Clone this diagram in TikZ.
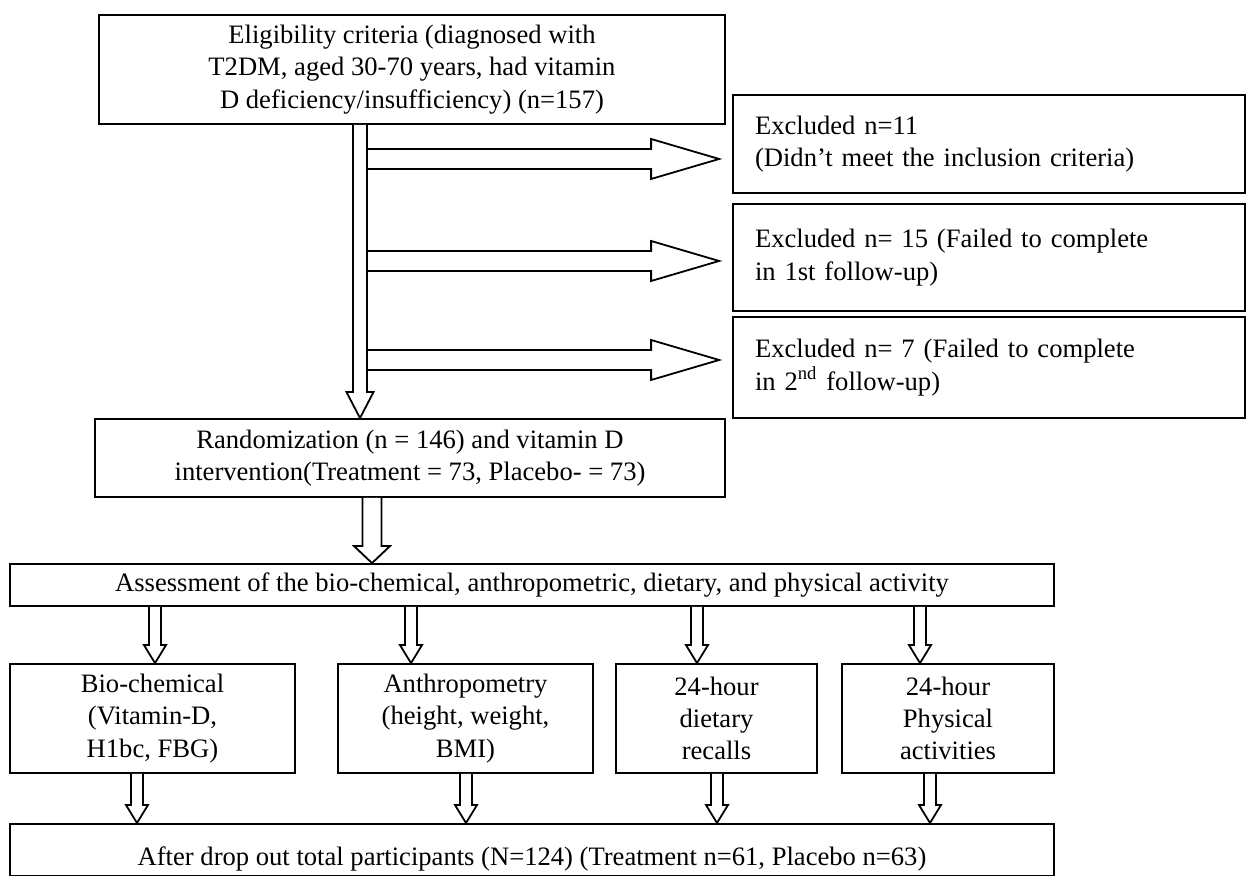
\documentclass[tikz,border=0pt]{standalone}
\usepackage{fontspec}
\setmainfont{Liberation Serif}
\usetikzlibrary{calc}

% hollow block arrows: start, tip, shaft half width, head half width, head length
\newcommand{\blockdown}[5]{%
  \draw[arrowline] ($(#1)+(-#3,0)$) -- ($(#2)+(-#3,#5)$) -- ($(#2)+(-#4,#5)$) -- (#2)
    -- ($(#2)+(#4,#5)$) -- ($(#2)+(#3,#5)$) -- ($(#1)+(#3,0)$);}
\newcommand{\blockright}[5]{%
  \draw[arrowline] ($(#1)+(0,#3)$) -- ($(#2)+(-#5,#3)$) -- ($(#2)+(-#5,#4)$) -- (#2)
    -- ($(#2)+(-#5,-#4)$) -- ($(#2)+(-#5,-#3)$) -- ($(#1)+(0,-#3)$) -- cycle;}

\begin{document}
\begin{tikzpicture}[x=0.5pt, y=0.5pt,
    box/.style={draw=black, line width=0.9pt, font=\fontsize{13.3pt}{16.2pt}\selectfont, align=center, inner sep=0pt},
    sidebox/.style={box, align=left, text width=234pt, minimum width=256pt},
    arrowline/.style={draw=black, line width=0.9pt, fill=white, line join=miter}]
    \useasboundingbox (0,0) rectangle (1252,876);

    \node[box, minimum width=313pt, minimum height=54.5pt] (elig) at (412,806.5) {Eligibility criteria (diagnosed with\\T2DM, aged 30-70 years, had vitamin\\D deficiency/insufficiency) (n=157)};
    \node[sidebox, minimum height=49pt] (excl1) at (989,732) {Excluded n=11\\(Didn’t meet the inclusion criteria)};
    \node[sidebox, minimum height=53.5pt] (excl2) at (989,618.5) {Excluded n= 15 (Failed to complete\\in 1st follow-up)};
    \node[sidebox, minimum height=50.5pt] (excl3) at (989,508.5) {Excluded n= 7 (Failed to complete\\in 2\textsuperscript{nd} follow-up)};
    \node[box, minimum width=315pt, minimum height=39pt] (rand) at (410,418) {Randomization (n = 146) and vitamin D\\intervention(Treatment = 73, Placebo- = 73)};
    \node[box, minimum width=522pt, minimum height=21pt] (assess) at (532,291) {Assessment of the bio-chemical, anthropometric, dietary, and physical activity};
    \node[box, minimum width=142.5pt, minimum height=54.5pt] (bio) at (152.5,157.5) {Bio-chemical\\(Vitamin-D,\\H1bc, FBG)};
    \node[box, minimum width=127.5pt, minimum height=54.5pt] (anthro) at (465.5,157.5) {Anthropometry\\(height, weight,\\BMI)};
    \node[box, minimum width=100.5pt, minimum height=54.5pt] (diet) at (716.5,157.5) {24-hour\\dietary\\recalls};
    \node[box, minimum width=106pt, minimum height=54.5pt] (phys) at (948,157.5) {24-hour\\Physical\\activities};
    \node[box, minimum width=522pt, text height=21pt, text depth=5pt, anchor=north] (final) at (532,53) {After drop out total participants (N=124) (Treatment n=61, Placebo n=63)};

    % main flow with the exclusions
    \coordinate (m1) at (360,0 |- elig.south);
    \coordinate (m2) at (360,0 |- rand.north);
    \blockdown{m1}{m2}{7}{13.5}{26}
    \coordinate (h1) at (367,717);
    \coordinate (t1) at ($(excl1.west |- 0,717)+(-13,0)$);
    \blockright{h1}{t1}{10}{20}{68}
    \coordinate (h2) at (367,615);
    \coordinate (t2) at ($(excl2.west |- 0,615)+(-13,0)$);
    \blockright{h2}{t2}{10}{20}{68}
    \coordinate (h3) at (367,516);
    \coordinate (t3) at ($(excl3.west |- 0,516)+(-13,0)$);
    \blockright{h3}{t3}{10}{20}{68}

    \coordinate (r1) at (372,0 |- rand.south);
    \coordinate (r2) at (372,0 |- assess.north);
    \blockdown{r1}{r2}{9.5}{18}{17}

    \foreach \x/\n in {155/bio, 411/anthro, 697/diet, 920/phys} {
        \coordinate (a) at (\x,0 |- assess.south);
        \coordinate (b) at (\x,0 |- \n.north);
        \blockdown{a}{b}{6}{11}{18}
    }
    \foreach \x/\n in {137/bio, 466/anthro, 717/diet, 930/phys} {
        \coordinate (a) at (\x,0 |- \n.south);
        \coordinate (b) at (\x,0 |- final.north);
        \blockdown{a}{b}{6}{11}{18}
    }
\end{tikzpicture}
\end{document}
